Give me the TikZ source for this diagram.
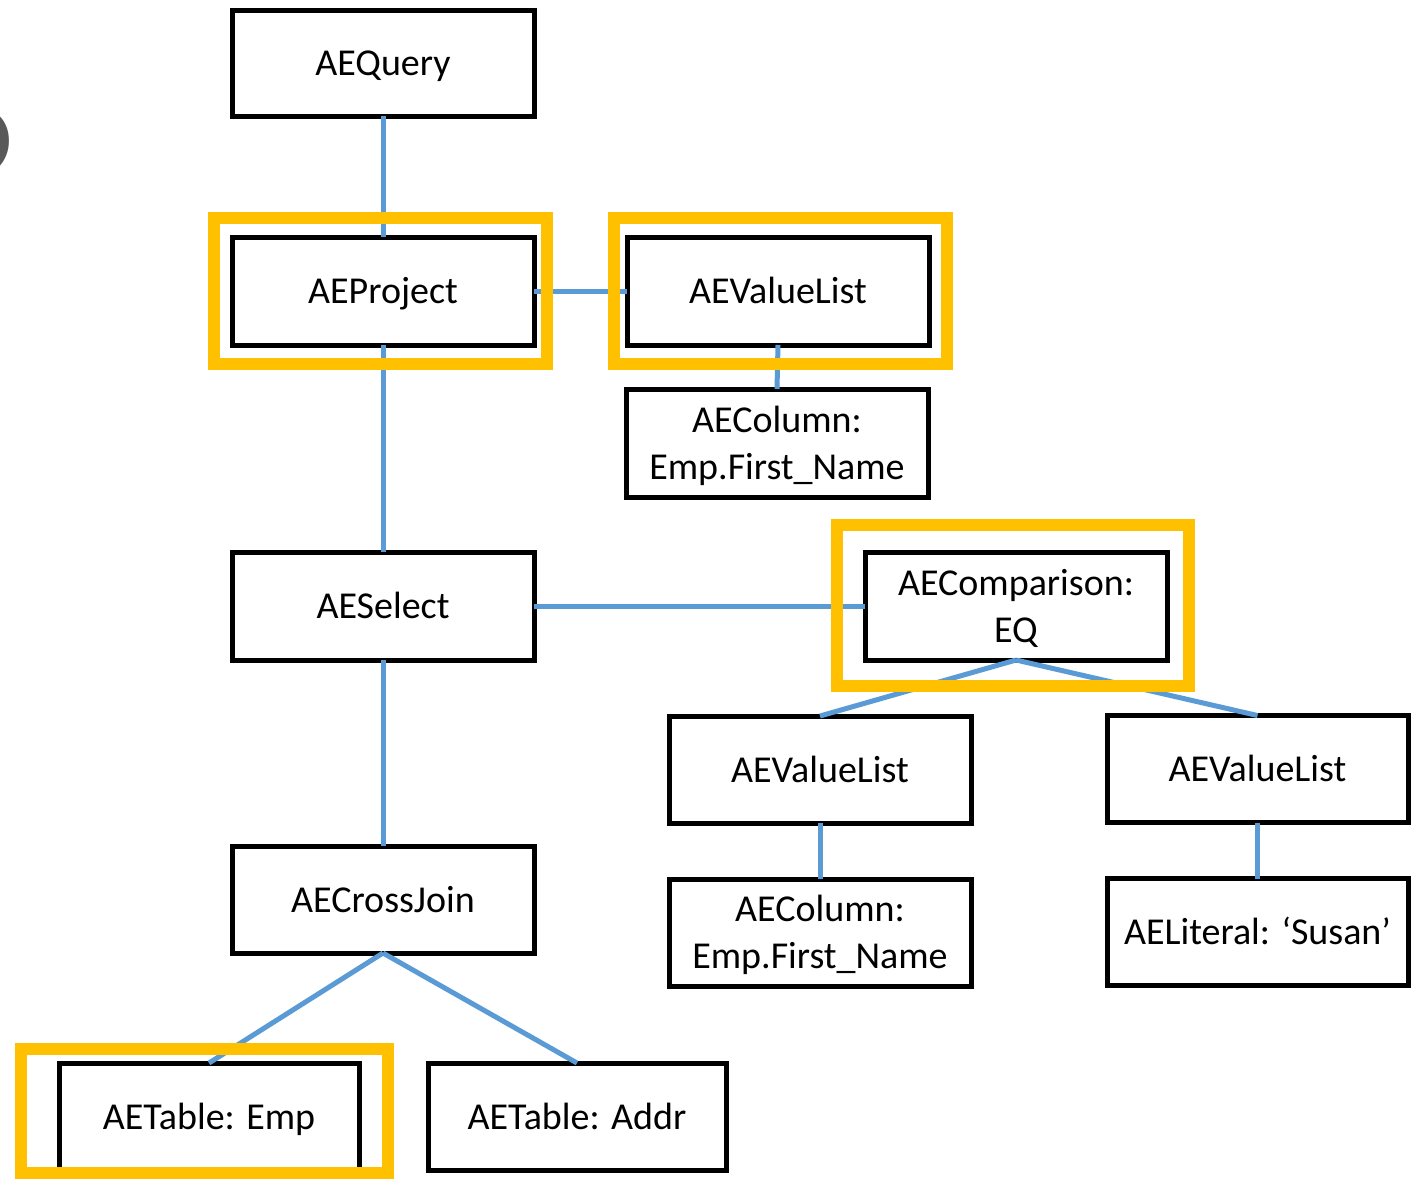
\documentclass[tikz,border=0pt]{standalone}
\usepackage{fontspec}
\setmainfont{Carlito}
\definecolor{linkblue}{HTML}{5B9BD5}
\definecolor{markgold}{HTML}{FFC000}
\definecolor{numgray}{HTML}{595959}
% line strut: keeps every text line the same height and depth
\newcommand{\ls}{\rule[-0.25em]{0pt}{1.18em}}
\begin{document}
\begin{tikzpicture}[x=1pt,y=-1pt,
  astnode/.style={draw=black, line width=5pt, fill=white, outer sep=0pt,
    minimum width=302pt, minimum height=107pt, inner sep=0pt, align=center,
    font=\fontsize{38}{47}\selectfont},
  link/.style={draw=linkblue, line width=5pt},
  hiframe/.style={draw=markgold, line width=12pt, outer sep=0pt, inner sep=0pt}]
  \useasboundingbox (0,0) rectangle (1411,1179);
  \fill[white] (0,0) rectangle (1411,1179);

  % page number at the left edge
  \node[anchor=base east, inner sep=0pt, text=numgray,
        font=\fontsize{165}{165}\selectfont] (pagenum) at (15,176) {6};

  % tree nodes
  \node[astnode, minimum height=106pt] (q)    at (383,63)     {\ls AEQuery};
  \node[astnode, minimum height=108pt] (p)    at (383,291)    {\ls AEProject};
  \node[astnode, minimum height=108pt] (vl)   at (778,291)    {\ls AEValueList};
  \node[astnode, minimum height=108pt] (col1) at (777,443)    {\ls AEColumn:\\\ls Emp.First\_Name};
  \node[astnode, minimum height=108pt] (sel)  at (383,606)    {\ls AESelect};
  \node[astnode, minimum height=108pt] (cmp)  at (1016,606)   {\ls AEComparison:\\\ls EQ};
  \node[astnode] (vl2)  at (820,769.5)  {\ls AEValueList};
  \node[astnode, minimum width=301pt] (vl3)  at (1257.5,769)   {\ls AEValueList};
  \node[astnode] (col2) at (820,932.5)  {\ls AEColumn:\\\ls Emp.First\_Name};
  \node[astnode, minimum width=301pt] (lit)  at (1257.5,932)   {\ls AELiteral: ‘Susan’};
  \node[astnode] (cj)   at (383,899.5)  {\ls AECrossJoin};
  \node[astnode, minimum width=300pt] (te) at (209,1116.5) {\ls AETable: Emp};
  \node[astnode, minimum width=298pt] (ta) at (577,1116.5) {\ls AETable: Addr};

  % connectors
  \draw[link] (q.south) -- (p.north);
  \draw[link] (p.east) -- (vl.west);
  \draw[link] (vl.south) -- (col1.north);
  \draw[link] (p.south) -- (sel.north);
  \draw[link] (sel.east) -- (cmp.west);
  \draw[link] (sel.south) -- (cj.north);
  \draw[link] (cj.south) -- (te.north);
  \draw[link] (cj.south) -- (ta.north);
  \draw[link] (cmp.south) -- (vl2.north);
  \draw[link] (cmp.south) -- (vl3.north);
  \draw[link] (vl2.south) -- (col2.north);
  \draw[link] (vl3.south) -- (lit.north);

  % highlight frames
  \node[hiframe, minimum width=333pt, minimum height=146pt] (markp)   at (380.5,291) {};
  \node[hiframe, minimum width=333pt, minimum height=146pt] (markvl)  at (780.5,291) {};
  \node[hiframe, minimum width=352pt, minimum height=161pt] (markcmp) at (1013,605.5) {};
  \node[hiframe, minimum width=367pt, minimum height=124pt] (markte)  at (204.5,1111) {};
\end{tikzpicture}
\end{document}
